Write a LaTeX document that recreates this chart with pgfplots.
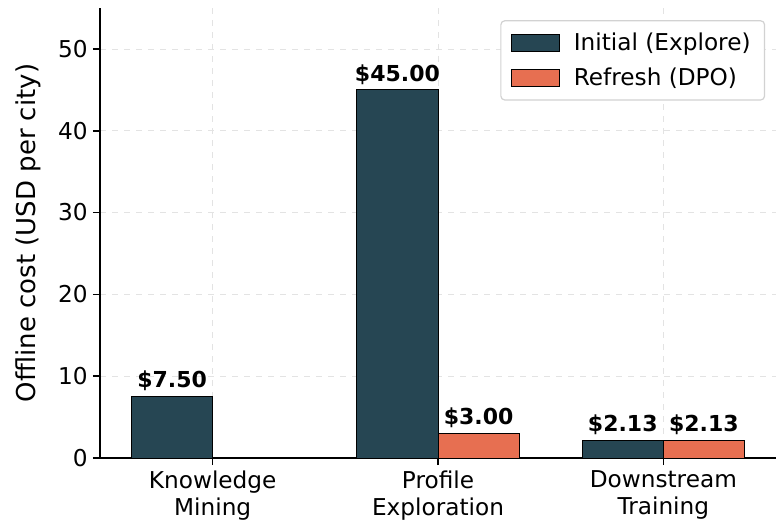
\documentclass[border=0pt]{standalone}
\usepackage{fontspec}
\setmainfont{DejaVu Sans}
\usepackage{pgfplots}
\pgfplotsset{compat=1.18}
\definecolor{cdark}{RGB}{38,70,83}
\definecolor{corange}{RGB}{231,111,81}
\begin{document}
\begin{tikzpicture}
\begin{axis}[
  name=ax,
  scale only axis,
  width=338pt, height=225pt,
  xmin=-0.5, xmax=2.5,
  ymin=0, ymax=55,
  axis x line*=bottom, axis y line*=left,
  axis line style={line width=0.8pt},
  ytick={0,10,20,30,40,50},
  xtick={0,1,2},
  xticklabels={{Knowledge\\Mining},{Profile\\Exploration},{Downstream\\Training}},
  xticklabel style={align=center, font=\fontsize{11.6}{13.5}\selectfont, inner sep=2.5pt},
  yticklabel style={font=\fontsize{11.6}{13}\selectfont, inner sep=2.5pt},
  /pgf/number format/assume math mode=true,
  tick align=outside,
  major tick length=3.5pt,
  tick style={line width=0.8pt, black},
  ymajorgrids, xmajorgrids,
  grid style={dashed, gray!22, line width=0.4pt},
  ylabel={Offline cost (USD per city)},
  ylabel style={font=\fontsize{13}{15}\selectfont, at={(rel axis cs:0,0.5)}, anchor=center, yshift=36pt},
  ybar, bar width=0.36,
  nodes near coords={\textbf{\$\pgfmathprintnumber[fixed,fixed zerofill,precision=2]{\pgfplotspointmeta}}},
  nodes near coords style={font=\fontsize{11}{12}\selectfont, color=black, inner sep=2.5pt},
  legend style={at={(0.984,0.973)}, anchor=north east, draw=gray!35, rounded corners=2pt,
    font=\fontsize{11.6}{13}\selectfont, row sep=3pt, inner xsep=5pt, inner ysep=4pt, line width=0.6pt},
  legend cell align=left,
  legend image code/.code={\draw[#1, draw=black, line width=0.5pt, sharp corners] (0pt,-4.25pt) rectangle (24pt,4.25pt); \path (29pt,0pt);},
]
\addplot[fill=cdark, draw=black, line width=0.5pt, bar shift=-0.18] coordinates {(0,7.50) (1,45.00) (2,2.13)};
\addlegendentry{Initial (Explore)}
\addplot[fill=corange, draw=black, line width=0.5pt, bar shift=0.18] coordinates {(1,3.00) (2,2.13)};
\addlegendentry{Refresh (DPO)}
\end{axis}
\pgfresetboundingbox
\path ([xshift=-50pt,yshift=-34pt]ax.south west) rectangle ([yshift=4pt]ax.north east);
\end{tikzpicture}
\end{document}
